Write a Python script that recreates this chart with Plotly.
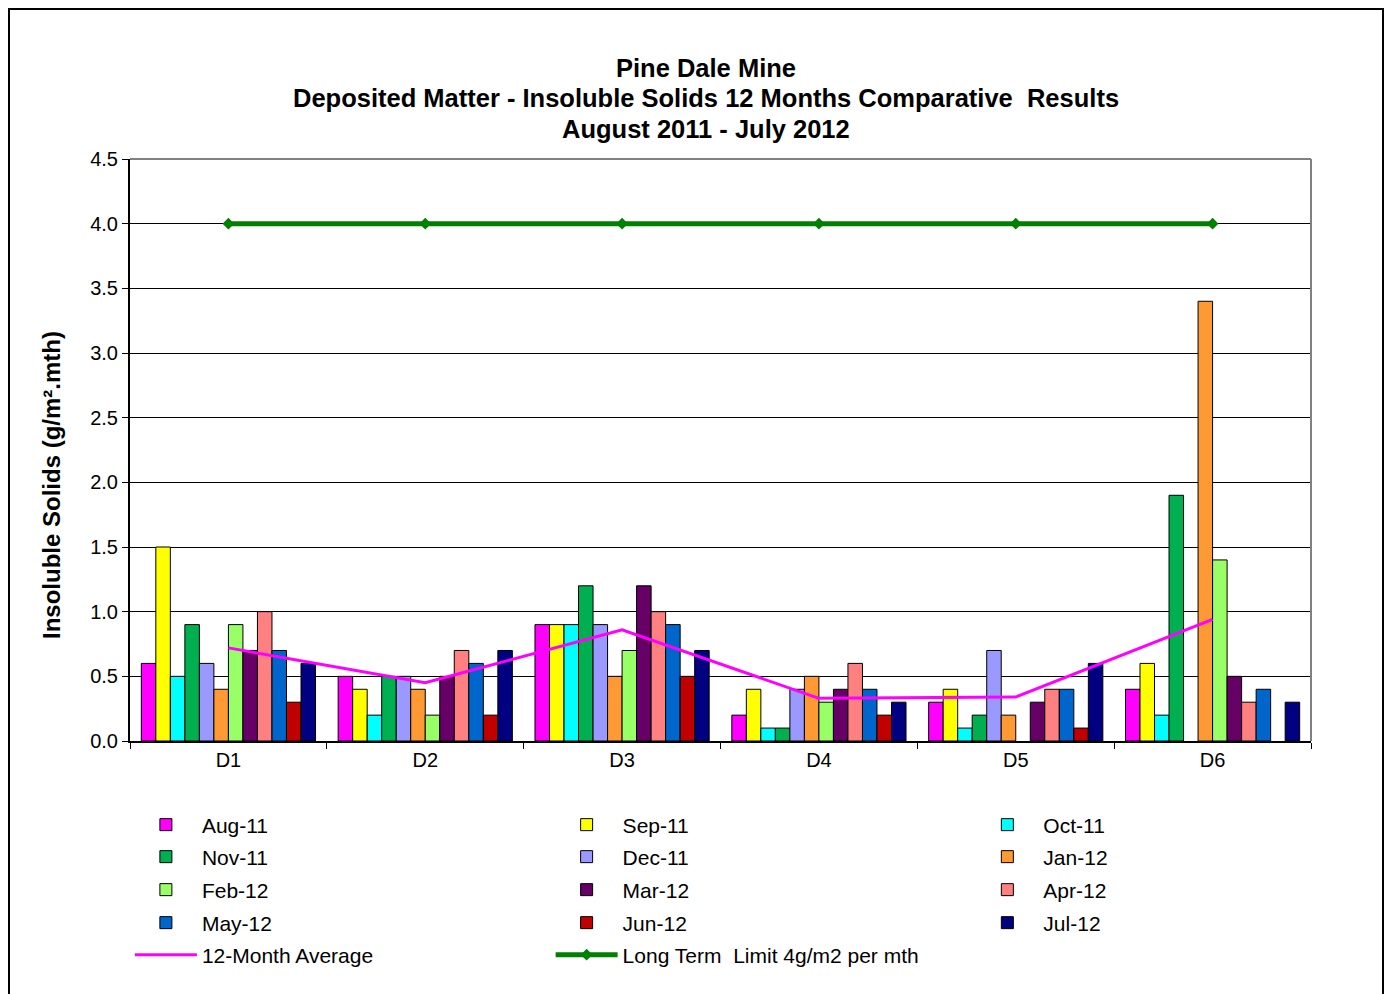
import plotly.graph_objects as go

sites = ["D1", "D2", "D3", "D4", "D5", "D6"]
months = ["Aug-11", "Sep-11", "Oct-11", "Nov-11", "Dec-11", "Jan-12",
          "Feb-12", "Mar-12", "Apr-12", "May-12", "Jun-12", "Jul-12"]

aug_11 = [0.6, 0.5, 0.9, 0.2, 0.3, 0.4]
sep_11 = [1.5, 0.4, 0.9, 0.4, 0.4, 0.6]
oct_11 = [0.5, 0.2, 0.9, 0.1, 0.1, 0.2]
nov_11 = [0.9, 0.5, 1.2, 0.1, 0.2, 1.9]
dec_11 = [0.6, 0.5, 0.9, 0.4, 0.7, None]
jan_12 = [0.4, 0.4, 0.5, 0.5, 0.2, 3.4]
feb_12 = [0.9, 0.2, 0.7, 0.3, None, 1.4]
mar_12 = [0.7, 0.5, 1.2, 0.4, 0.3, 0.5]
apr_12 = [1.0, 0.7, 1.0, 0.6, 0.4, 0.3]
may_12 = [0.7, 0.6, 0.9, 0.4, 0.4, 0.4]
jun_12 = [0.3, 0.2, 0.5, 0.2, 0.1, None]
jul_12 = [0.6, 0.7, 0.7, 0.3, 0.6, 0.3]

avg_12m = [0.72, 0.45, 0.86, 0.33, 0.34, 0.94]
limit = [4.0, 4.0, 4.0, 4.0, 4.0, 4.0]

month_values = [aug_11, sep_11, oct_11, nov_11, dec_11, jan_12,
                feb_12, mar_12, apr_12, may_12, jun_12, jul_12]
colors = ["#FF00FF", "#FFFF00", "#00FFFF", "#00B050", "#9999FF", "#FF9933",
          "#99FF66", "#660066", "#FF8080", "#0066CC", "#C00000", "#000080"]

y_ticks = [0.0, 0.5, 1.0, 1.5, 2.0, 2.5, 3.0, 3.5, 4.0, 4.5]

FONT = "Liberation Sans, Arial, sans-serif"

legend_ids = ["legend", "legend2", "legend3", "legend4"]

fig = go.Figure()
for i, (name, vals, col) in enumerate(zip(months, month_values, colors)):
    fig.add_trace(go.Bar(
        x=sites, y=vals, name=name,
        marker=dict(color=col, line=dict(color="black", width=1)),
        legend=legend_ids[i // 3],
    ))

fig.add_trace(go.Scatter(
    x=sites, y=avg_12m, name="12-Month Average", mode="lines",
    line=dict(color="#FF00FF", width=3), legend="legend5",
))
fig.add_trace(go.Scatter(
    x=sites, y=limit, name="Long Term  Limit 4g/m2 per mth", mode="lines+markers",
    line=dict(color="#008000", width=5),
    marker=dict(symbol="diamond", size=9, color="#008000"),
    legend="legend5",
))

# page body adds an 8px offset; layout is sized so the screen positions match
OFF = 8
W, H = 1392 - OFF, 994 - OFF
# plot area in screen pixels
L, R, T, B = 130, 1311, 159, 741
pw, ph = R - L, B - T

def py(Y):
    return (B - Y) / ph

def px(X):
    return (X - L) / pw

legend_rows = [825, 857, 890, 923, 955]
legend_common = dict(
    orientation="h", x=-0.0001, xanchor="left", yanchor="middle",
    entrywidth=0.3229, entrywidthmode="fraction", itemwidth=62,
    font=dict(family=FONT, size=21, color="black"),
    bgcolor="rgba(0,0,0,0)", traceorder="normal",
)
legends = {}
for k, Y in enumerate(legend_rows):
    key = "legend" if k == 0 else f"legend{k+1}"
    legends[key] = dict(legend_common, y=py(Y))

fig.update_layout(
    width=W, height=H,
    margin=dict(l=L - OFF, r=W - (R - OFF), t=T - OFF, b=H - (B - OFF), autoexpand=False),
    paper_bgcolor="white", plot_bgcolor="white",
    barmode="group", bargap=0.115, bargroupgap=0,
    font=dict(family=FONT, color="black"),
    showlegend=True,
    xaxis=dict(
        type="category", showline=True, linecolor="black", linewidth=2,
        ticks="outside", tickson="boundaries", ticklen=6, tickcolor="black",
        tickfont=dict(size=20, family=FONT), showgrid=False,
    ),
    yaxis=dict(
        range=[0, 4.5], tickvals=y_ticks, ticktext=[f"{v:.1f}" for v in y_ticks],
        showline=True, linecolor="black", linewidth=2,
        ticks="outside", ticklen=6, tickcolor="black",
        tickfont=dict(size=20, family=FONT),
        showgrid=True, gridcolor="black", gridwidth=1, zeroline=False,
    ),
    annotations=[
        dict(text="<b>Pine Dale Mine</b>", x=px(706), y=py(68), xref="paper", yref="paper",
             showarrow=False, font=dict(size=25.5, family=FONT), xanchor="center", yanchor="middle"),
        dict(text="<b>Deposited Matter - Insoluble Solids 12 Months Comparative  Results</b>",
             x=px(706), y=py(98), xref="paper", yref="paper",
             showarrow=False, font=dict(size=25.5, family=FONT), xanchor="center", yanchor="middle"),
        dict(text="<b>August 2011 - July 2012</b>", x=px(706), y=py(129), xref="paper", yref="paper",
             showarrow=False, font=dict(size=25.5, family=FONT), xanchor="center", yanchor="middle"),
        dict(text="<b>Insoluble Solids (g/m².mth)</b>", x=px(51), y=py(485),
             xref="paper", yref="paper", textangle=-90,
             showarrow=False, font=dict(size=24, family=FONT), xanchor="center", yanchor="middle"),
    ],
    shapes=[
        dict(type="line", xref="paper", yref="paper", x0=0, x1=1, y0=1, y1=1,
             line=dict(color="#808080", width=2), layer="above"),
        dict(type="line", xref="paper", yref="paper", x0=1, x1=1, y0=0, y1=1,
             line=dict(color="#808080", width=2), layer="above"),
        dict(type="rect", xref="paper", yref="paper",
             x0=px(9), x1=px(1383), y0=py(9), y1=py(1010),
             line=dict(color="black", width=2), layer="below"),
    ],
    **legends,
)

fig.write_html("out.html")
